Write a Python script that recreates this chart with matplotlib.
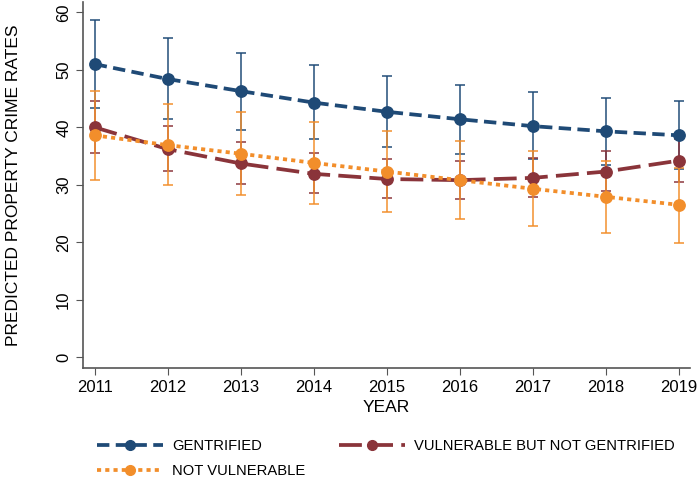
import matplotlib
matplotlib.use("Agg")
import matplotlib.pyplot as plt
from matplotlib.lines import Line2D

plt.rcParams['font.family'] = ['Liberation Sans', 'DejaVu Sans']

# --- dados ---
anos = [2011, 2012, 2013, 2014, 2015, 2016, 2017, 2018, 2019]

gentrified = [51.0, 48.4, 46.3, 44.3, 42.7, 41.4, 40.2, 39.3, 38.6]
gentrified_lo = [43.4, 41.4, 39.5, 37.9, 36.5, 35.3, 34.5, 33.5, 32.7]
gentrified_hi = [58.7, 55.6, 53.0, 50.9, 49.0, 47.4, 46.1, 45.1, 44.5]

vulneravel = [40.0, 36.2, 33.7, 31.9, 31.0, 30.8, 31.2, 32.3, 34.2]
vulneravel_lo = [35.5, 32.4, 30.1, 28.6, 27.7, 27.5, 27.9, 28.9, 30.4]
vulneravel_hi = [44.5, 40.3, 37.4, 35.5, 34.5, 34.2, 34.6, 35.9, 38.0]

nao_vulneravel = [38.6, 36.9, 35.4, 33.8, 32.3, 30.8, 29.3, 27.9, 26.5]
nao_vulneravel_lo = [30.9, 29.9, 28.3, 26.6, 25.3, 24.0, 22.8, 21.6, 19.9]
nao_vulneravel_hi = [46.4, 44.1, 42.6, 41.0, 39.4, 37.6, 35.8, 34.2, 33.0]

series = [
    ('GENTRIFIED', gentrified, gentrified_lo, gentrified_hi, '#1f4a76', (0, (3.3, 1.7))),
    ('VULNERABLE BUT NOT GENTRIFIED', vulneravel, vulneravel_lo, vulneravel_hi, '#8a343a', (0, (6.1, 2.2))),
    ('NOT VULNERABLE', nao_vulneravel, nao_vulneravel_lo, nao_vulneravel_hi, '#f28e2b', (0, (1.1, 1.1))),
]

fig = plt.figure(figsize=(7.0, 4.79), dpi=100)
ax = fig.add_axes([0.1186, 0.2317, 0.867, 0.764])

handles = {}
for nome, y, lo, hi, cor, estilo in series:
    erro = [[v - l for v, l in zip(y, lo)], [h - v for v, h in zip(y, hi)]]
    ax.errorbar(anos, y, yerr=erro, fmt='none', ecolor=cor, elinewidth=1.2,
                capsize=3.8, capthick=1.2, alpha=0.9, zorder=2)
    ax.plot(anos, y, color=cor, linestyle=estilo, linewidth=2.7,
            marker='o', markersize=8.2, zorder=3)
    handles[nome] = Line2D([], [], color=cor, linestyle=estilo, linewidth=2.7,
                           marker='o', markersize=7)

ax.set_xlim(2010.84, 2019.15)
ax.set_ylim(-1.9, 61.8)
ax.set_xticks(anos)
ax.set_yticks(range(0, 61, 10))
ax.tick_params(axis='y', labelrotation=90, labelsize=12, length=5, color='#555555')
ax.tick_params(axis='x', labelsize=12, length=5, color='#555555')
for lbl in ax.get_yticklabels():
    lbl.set_va('center')

for lado in ['top', 'right']:
    ax.spines[lado].set_visible(False)
for lado in ['left', 'bottom']:
    ax.spines[lado].set_color('#555555')
    ax.spines[lado].set_linewidth(1.2)

ax.set_xlabel('YEAR', fontsize=12.5, labelpad=4)
ax.set_ylabel('PREDICTED PROPERTY CRIME RATES', fontsize=12.5, labelpad=25)

ordem = ['GENTRIFIED', 'NOT VULNERABLE', 'VULNERABLE BUT NOT GENTRIFIED']
fig.legend([handles[n] for n in ordem], ordem, ncol=2, frameon=False,
           loc='lower left', bbox_to_anchor=(97 / 700, 1 / 479), fontsize=10.6,
           borderpad=0, borderaxespad=0,
           handlelength=4.5, handletextpad=0.6, columnspacing=2.3,
           labelspacing=0.75)

fig.savefig('out.png', dpi=100)
